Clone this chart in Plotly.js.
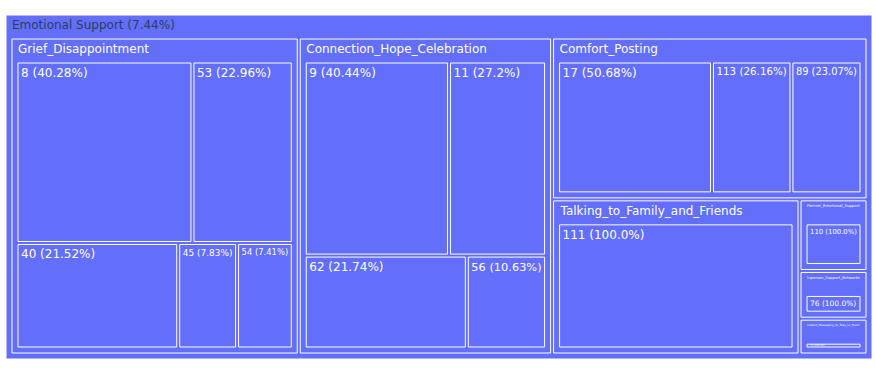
<!DOCTYPE html>
<html>
<head>
<meta charset="utf-8">
<script src="https://cdn.plot.ly/plotly-3.0.1.min.js"></script>
<style>
  html, body { margin: 0; padding: 0; background: #fff; }
  #plot-div { width: 876px; height: 374px; }
</style>
</head>
<body>
<div id="plot-div"></div>
<script>
// root
var rootName = "Emotional Support";
var rootShare = "7.44%";

// groups and their approximate share of the root (read from tile areas)
var groups = [
  "Grief_Disappointment",
  "Connection_Hope_Celebration",
  "Comfort_Posting",
  "Talking_to_Family_and_Friends",
  "Partner_Emotional_Support",
  "Inperson_Support_Networks",
  "Instant_Messaging_to_Stay_in_Touch"
];
var groupShares = [33.8, 29.7, 18.9, 14.2, 1.8, 1.2, 0.9];

// leaves per group: label and percent of parent
var leafLabels = [
  ["8", "53", "40", "45", "54"],
  ["9", "11", "62", "56"],
  ["17", "113", "89"],
  ["111"],
  ["110"],
  ["76"],
  ["14"]
];
var leafPercents = [
  [40.28, 22.96, 21.52, 7.83, 7.41],
  [40.44, 27.2, 21.74, 10.63],
  [50.68, 26.16, 23.07],
  [100.0],
  [100.0],
  [100.0],
  [100.0]
];

function fmtPct(p) {
  var s = String(p);
  if (s.indexOf(".") < 0) s = s + ".0";
  return s + "%";
}

var ids = [], labels = [], parents = [], values = [], texts = [], textColors = [];
var blue = "#636efa";

// root label carries its share so the header shows it
ids.push("root"); labels.push(rootName + " (" + rootShare + ")"); parents.push("");
values.push(0); texts.push(rootName + " (" + rootShare + ")");
textColors.push("#2a3f5f");

groups.forEach(function (g, gi) {
  ids.push("g" + gi); labels.push(g); parents.push("root");
  values.push(0); texts.push(g); textColors.push("#ffffff");
  leafLabels[gi].forEach(function (l, li) {
    ids.push("g" + gi + "_" + li); labels.push(l); parents.push("g" + gi);
    values.push(groupShares[gi] * leafPercents[gi][li] / 100);
    texts.push(l + " (" + fmtPct(leafPercents[gi][li]) + ")");
    textColors.push("#ffffff");
  });
});

var trace = {
  type: "treemap",
  ids: ids,
  labels: labels,
  parents: parents,
  values: values,
  text: texts,
  texttemplate: "%{text}",
  branchvalues: "remainder",
  sort: true,
  marker: {
    colors: ids.map(function () { return blue; }),
    line: { color: "#ffffff", width: 1 }
  },
  textfont: { family: "'DejaVu Sans', Verdana, sans-serif", size: 12, color: textColors },
  pathbar: { visible: false },
  hoverinfo: "label+value"
};

var layout = {
  width: 876,
  height: 374,
  margin: { l: 6, r: 4, t: 15, b: 15 },
  paper_bgcolor: "#ffffff",
  font: { family: "'DejaVu Sans', Verdana, sans-serif" }
};

Plotly.newPlot("plot-div", [trace], layout, { displayModeBar: false });
</script>
</body>
</html>
